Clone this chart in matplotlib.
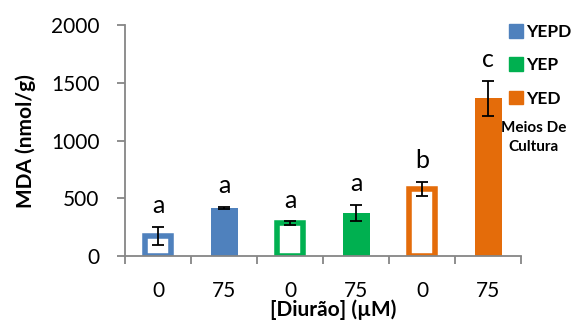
import numpy as np
import matplotlib
matplotlib.use("Agg")
from matplotlib import pyplot as plt
from matplotlib.patches import Patch

plt.rcParams['font.family'] = ['Lato', 'DejaVu Sans']

# MDA per culture medium and diuron dose
doses = ['0', '75', '0', '75', '0', '75']
media = ['YEPD', 'YEPD', 'YEP', 'YEP', 'YED', 'YED']
mda = [175, 415, 285, 372, 578, 1365]
mda_err = [78, 10, 15, 69, 62, 150]
letters = ['a', 'a', 'a', 'a', 'b', 'c']
hollow = [True, False, True, False, True, False]

media_colors = {'YEPD': '#4F81BD', 'YEP': '#00B050', 'YED': '#E46C0A'}
axis_grey = '#868686'

fig = plt.figure(figsize=(5.74, 3.25), dpi=100)
ax = fig.add_axes([0.218, 0.212, 0.690, 0.711])

x = np.arange(len(mda))
for xi, val, med, is_hollow in zip(x, mda, media, hollow):
    col = media_colors[med]
    if is_hollow:
        ax.bar(xi, val, width=0.40, facecolor='white', edgecolor=col,
               linewidth=4.0, zorder=2)
    else:
        ax.bar(xi, val, width=0.41, color=col, zorder=2)

ax.errorbar(x, mda, yerr=mda_err, fmt='none', ecolor='black',
            elinewidth=1.3, capsize=4, capthick=1.3, zorder=3)

# significance letters above each error bar
for xi, val, err, let in zip(x, mda, mda_err, letters):
    ax.annotate(let, (xi, val + err), xytext=(0, 7), textcoords='offset points',
                ha='center', va='bottom', fontsize=18)

ax.set_xlim(-0.5, len(mda) - 0.5)
ax.set_ylim(0, 2000)
ax.set_yticks([0, 500, 1000, 1500, 2000])
ax.set_xticks(np.arange(-0.5, len(mda)))
ax.set_xticklabels([])
ax.set_xticks(x, minor=True)
ax.set_xticklabels(doses, minor=True)

for side in ('top', 'right'):
    ax.spines[side].set_visible(False)
for side in ('left', 'bottom'):
    ax.spines[side].set_color(axis_grey)
    ax.spines[side].set_linewidth(1.3)

ax.tick_params(axis='y', direction='out', length=5.5, width=1.3,
               color=axis_grey, labelsize=15, pad=13)
ax.tick_params(axis='x', which='major', direction='out', length=5.5,
               width=1.3, color=axis_grey)
ax.tick_params(axis='x', which='minor', length=0, labelsize=15, pad=18)

ax.set_ylabel('MDA (nmol/g)', fontsize=15, fontweight='bold', va='center')
ax.yaxis.set_label_coords(-0.250, 0.5)
ax.set_xlabel('[Diurão] (µM)', fontsize=15, fontweight='bold', va='center')
ax.xaxis.set_label_coords(0.525, -0.234)

handles = [Patch(facecolor=c, edgecolor=c, label=m) for m, c in media_colors.items()]
leg = fig.legend(handles=handles, loc='upper left', bbox_to_anchor=(0.874, 0.948),
                 frameon=False, prop={'weight': 'bold', 'size': 12.5},
                 handlelength=0.85, handleheight=0.85, handletextpad=0.15,
                 labelspacing=1.0, borderaxespad=0)
fig.text(0.930, 0.578, 'Meios De\nCultura', ha='center', va='center',
         fontsize=11, fontweight='bold', linespacing=1.45)

fig.savefig('out.png', dpi=100)
